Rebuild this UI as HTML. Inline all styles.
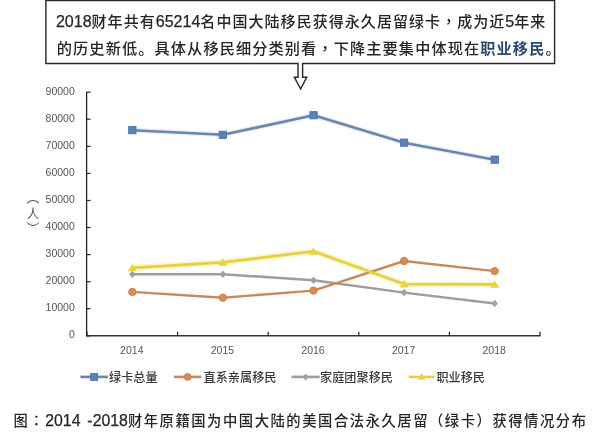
<!DOCTYPE html>
<html><head><meta charset="utf-8"><style>
html,body{margin:0;padding:0;background:#fff;}
body{width:600px;height:439px;overflow:hidden;position:relative;}
svg{position:absolute;left:0;top:0;}
.ax{font-family:"Liberation Sans",Arial,sans-serif;font-size:10.5px;fill:#555;}
.lg{font-family:"Liberation Sans","Noto Sans CJK SC",sans-serif;font-size:12.15px;fill:#3a3a3a;font-weight:500;}
.t{position:absolute;white-space:nowrap;font-family:"Liberation Sans","Noto Sans CJK SC",sans-serif;color:#262626;font-weight:500;}
.n{-webkit-text-stroke:0.25px #262626;}
.n{letter-spacing:0;font-weight:400;}
#l1{left:55.9px;top:10.5px;line-height:20px;font-size:15.0px;letter-spacing:1.05px;}
#l1 .n{font-size:16.05px;}
#l2{left:56.8px;top:37px;line-height:20px;font-size:15.2px;letter-spacing:1.10px;}
#cap{left:13.5px;top:410px;line-height:20px;font-size:14.3px;letter-spacing:1.55px;}
#cap .n{font-size:15.85px;}
.ws{word-spacing:2.5px;}
.hl{color:#2a4a6e;font-weight:bold;}
.tc{font-family:"Noto Sans CJK TC",sans-serif;}
#yl{position:absolute;left:25.5px;top:190.6px;letter-spacing:2.9px;writing-mode:vertical-rl;font-family:"Noto Sans CJK SC",sans-serif;font-size:12.6px;color:#555;line-height:14px;}
</style></head><body>
<svg width="600" height="439" viewBox="0 0 600 439">
<line x1="86.6" y1="92" x2="86.6" y2="336.4" stroke="#222" stroke-width="1.3"/>
<line x1="86" y1="335.8" x2="540.5" y2="335.8" stroke="#333" stroke-width="1.5"/>
<line x1="86.6" y1="335.8" x2="90.5" y2="335.8" stroke="#222" stroke-width="1.2"/>
<text x="74.8" y="338.1" text-anchor="end" class="ax">0</text>
<line x1="86.6" y1="308.7" x2="90.5" y2="308.7" stroke="#222" stroke-width="1.2"/>
<text x="74.8" y="311.0" text-anchor="end" class="ax">10000</text>
<line x1="86.6" y1="281.7" x2="90.5" y2="281.7" stroke="#222" stroke-width="1.2"/>
<text x="74.8" y="284.0" text-anchor="end" class="ax">20000</text>
<line x1="86.6" y1="254.6" x2="90.5" y2="254.6" stroke="#222" stroke-width="1.2"/>
<text x="74.8" y="256.9" text-anchor="end" class="ax">30000</text>
<line x1="86.6" y1="227.5" x2="90.5" y2="227.5" stroke="#222" stroke-width="1.2"/>
<text x="74.8" y="229.8" text-anchor="end" class="ax">40000</text>
<line x1="86.6" y1="200.5" x2="90.5" y2="200.5" stroke="#222" stroke-width="1.2"/>
<text x="74.8" y="202.8" text-anchor="end" class="ax">50000</text>
<line x1="86.6" y1="173.4" x2="90.5" y2="173.4" stroke="#222" stroke-width="1.2"/>
<text x="74.8" y="175.7" text-anchor="end" class="ax">60000</text>
<line x1="86.6" y1="146.3" x2="90.5" y2="146.3" stroke="#222" stroke-width="1.2"/>
<text x="74.8" y="148.6" text-anchor="end" class="ax">70000</text>
<line x1="86.6" y1="119.2" x2="90.5" y2="119.2" stroke="#222" stroke-width="1.2"/>
<text x="74.8" y="121.5" text-anchor="end" class="ax">80000</text>
<line x1="86.6" y1="92.2" x2="90.5" y2="92.2" stroke="#222" stroke-width="1.2"/>
<text x="74.8" y="94.5" text-anchor="end" class="ax">90000</text>
<line x1="87.0" y1="331.8" x2="87.0" y2="335.8" stroke="#222" stroke-width="1.2"/>
<line x1="177.6" y1="331.8" x2="177.6" y2="335.8" stroke="#222" stroke-width="1.2"/>
<line x1="268.2" y1="331.8" x2="268.2" y2="335.8" stroke="#222" stroke-width="1.2"/>
<line x1="358.8" y1="331.8" x2="358.8" y2="335.8" stroke="#222" stroke-width="1.2"/>
<line x1="449.4" y1="331.8" x2="449.4" y2="335.8" stroke="#222" stroke-width="1.2"/>
<line x1="540.0" y1="331.8" x2="540.0" y2="335.8" stroke="#222" stroke-width="1.2"/>
<text x="131.8" y="353.8" text-anchor="middle" class="ax">2014</text>
<text x="222.4" y="353.8" text-anchor="middle" class="ax">2015</text>
<text x="313.0" y="353.8" text-anchor="middle" class="ax">2016</text>
<text x="403.6" y="353.8" text-anchor="middle" class="ax">2017</text>
<text x="494.2" y="353.8" text-anchor="middle" class="ax">2018</text>
<polyline points="132.3,267.8 222.9,262.3 313.5,251.3 404.1,284.1 494.7,284.4" fill="none" stroke="#FAF2B0" stroke-width="6" stroke-linejoin="round" opacity="0.7"/>
<polyline points="132.3,130.2 222.9,134.8 313.5,115.3 404.1,142.7 494.7,159.7" fill="none" stroke="#D8E6F6" stroke-width="5" stroke-linejoin="round" opacity="0.6"/>
<polyline points="132.3,274.3 222.9,274.3 313.5,280.2 404.1,292.6 494.7,303.5" fill="none" stroke="#9D9D9D" stroke-width="2.4" stroke-linejoin="round"/>
<polyline points="132.3,291.9 222.9,297.7 313.5,290.6 404.1,261.0 494.7,271.1" fill="none" stroke="#C98A5B" stroke-width="2.4" stroke-linejoin="round"/>
<polyline points="132.3,267.8 222.9,262.3 313.5,251.3 404.1,284.1 494.7,284.4" fill="none" stroke="#E6CE48" stroke-width="2.7" stroke-linejoin="round"/>
<polyline points="132.3,130.2 222.9,134.8 313.5,115.3 404.1,142.7 494.7,159.7" fill="none" stroke="#6B86A9" stroke-width="2.6" stroke-linejoin="round"/>
<polygon points="129.1,274.3 132.3,270.5 135.5,274.3 132.3,278.1" fill="#A0A0A0"/>
<polygon points="219.7,274.3 222.9,270.5 226.1,274.3 222.9,278.1" fill="#A0A0A0"/>
<polygon points="310.3,280.2 313.5,276.4 316.7,280.2 313.5,284.0" fill="#A0A0A0"/>
<polygon points="400.9,292.6 404.1,288.8 407.3,292.6 404.1,296.4" fill="#A0A0A0"/>
<polygon points="491.5,303.5 494.7,299.7 497.9,303.5 494.7,307.3" fill="#A0A0A0"/>
<circle cx="132.3" cy="291.9" r="3.7" fill="#DD8A50" stroke="#C07A4A" stroke-width="0.8"/>
<circle cx="222.9" cy="297.7" r="3.7" fill="#DD8A50" stroke="#C07A4A" stroke-width="0.8"/>
<circle cx="313.5" cy="290.6" r="3.7" fill="#DD8A50" stroke="#C07A4A" stroke-width="0.8"/>
<circle cx="404.1" cy="261.0" r="3.7" fill="#DD8A50" stroke="#C07A4A" stroke-width="0.8"/>
<circle cx="494.7" cy="271.1" r="3.7" fill="#DD8A50" stroke="#C07A4A" stroke-width="0.8"/>
<polygon points="127.7,271.2 132.3,263.7 136.9,271.2" fill="#EED43C"/>
<polygon points="218.3,265.7 222.9,258.2 227.5,265.7" fill="#EED43C"/>
<polygon points="308.9,254.7 313.5,247.2 318.1,254.7" fill="#EED43C"/>
<polygon points="399.5,287.5 404.1,280.0 408.7,287.5" fill="#EED43C"/>
<polygon points="490.1,287.8 494.7,280.3 499.3,287.8" fill="#EED43C"/>
<rect x="128.7" y="126.5" width="7.3" height="7.3" fill="#5883BE" stroke="#4A6E9F" stroke-width="0.8"/>
<rect x="219.2" y="131.2" width="7.3" height="7.3" fill="#5883BE" stroke="#4A6E9F" stroke-width="0.8"/>
<rect x="309.9" y="111.6" width="7.3" height="7.3" fill="#5883BE" stroke="#4A6E9F" stroke-width="0.8"/>
<rect x="400.5" y="139.0" width="7.3" height="7.3" fill="#5883BE" stroke="#4A6E9F" stroke-width="0.8"/>
<rect x="491.1" y="156.0" width="7.3" height="7.3" fill="#5883BE" stroke="#4A6E9F" stroke-width="0.8"/>
<line x1="80.4" y1="376.9" x2="107.9" y2="376.9" stroke="#6B86A9" stroke-width="2.6"/><rect x="90.7" y="373.4" width="7" height="7" fill="#5883BE" stroke="#4A6E9F" stroke-width="0.8"/>
<text x="109" y="381.5" class="lg">绿卡总量</text>
<line x1="173.9" y1="376.9" x2="201.4" y2="376.9" stroke="#C98A5B" stroke-width="2.6"/><circle cx="187.6" cy="376.9" r="3.4" fill="#DD8A50" stroke="#C07A4A" stroke-width="0.8"/>
<text x="203.6" y="381.5" class="lg">直系亲属移民</text>
<line x1="291.5" y1="376.9" x2="319.7" y2="376.9" stroke="#9D9D9D" stroke-width="2.6"/><polygon points="302.6,376.9 305.6,373.4 308.6,376.9 305.6,380.4" fill="#A0A0A0"/>
<text x="320.1" y="381.5" class="lg">家庭团聚移民</text>
<line x1="408.7" y1="376.9" x2="434.7" y2="376.9" stroke="#E6CE48" stroke-width="2.6"/><polygon points="417.5,379.8 421.7,373.3 425.9,379.8" fill="#EED43C"/>
<text x="436.4" y="381.5" class="lg">职业移民</text>
<path d="M45.9,0.5 H554.6 V63.5 H302.6 V77.2 H306.8 L300.6,89 L294.4,77.2 H298 V63.5 H45.9 Z" fill="none" stroke="#2b2b2b" stroke-width="1.45" stroke-linejoin="miter"/>
</svg>
<div class="t" id="l1"><span class="n">2018</span>财年共有<span class="n">65214</span>名中国大陆移民获得永久居留绿卡<span class="tc">，</span>成为近<span class="n">5</span>年来</div>
<div class="t" id="l2">的历史新低。具体从移民细分类别看<span class="tc">，</span>下降主要集中体现在<span class="hl">职业移民。</span></div>
<div id="yl">（人）</div>
<div class="t" id="cap">图<span class="tc">：</span><span class="n ws">2014 -2018</span>财年原籍国为中国大陆的美国合法永久居留<span class="tc">（</span>绿卡<span class="tc">）</span>获得情况分布</div>
</body></html>
